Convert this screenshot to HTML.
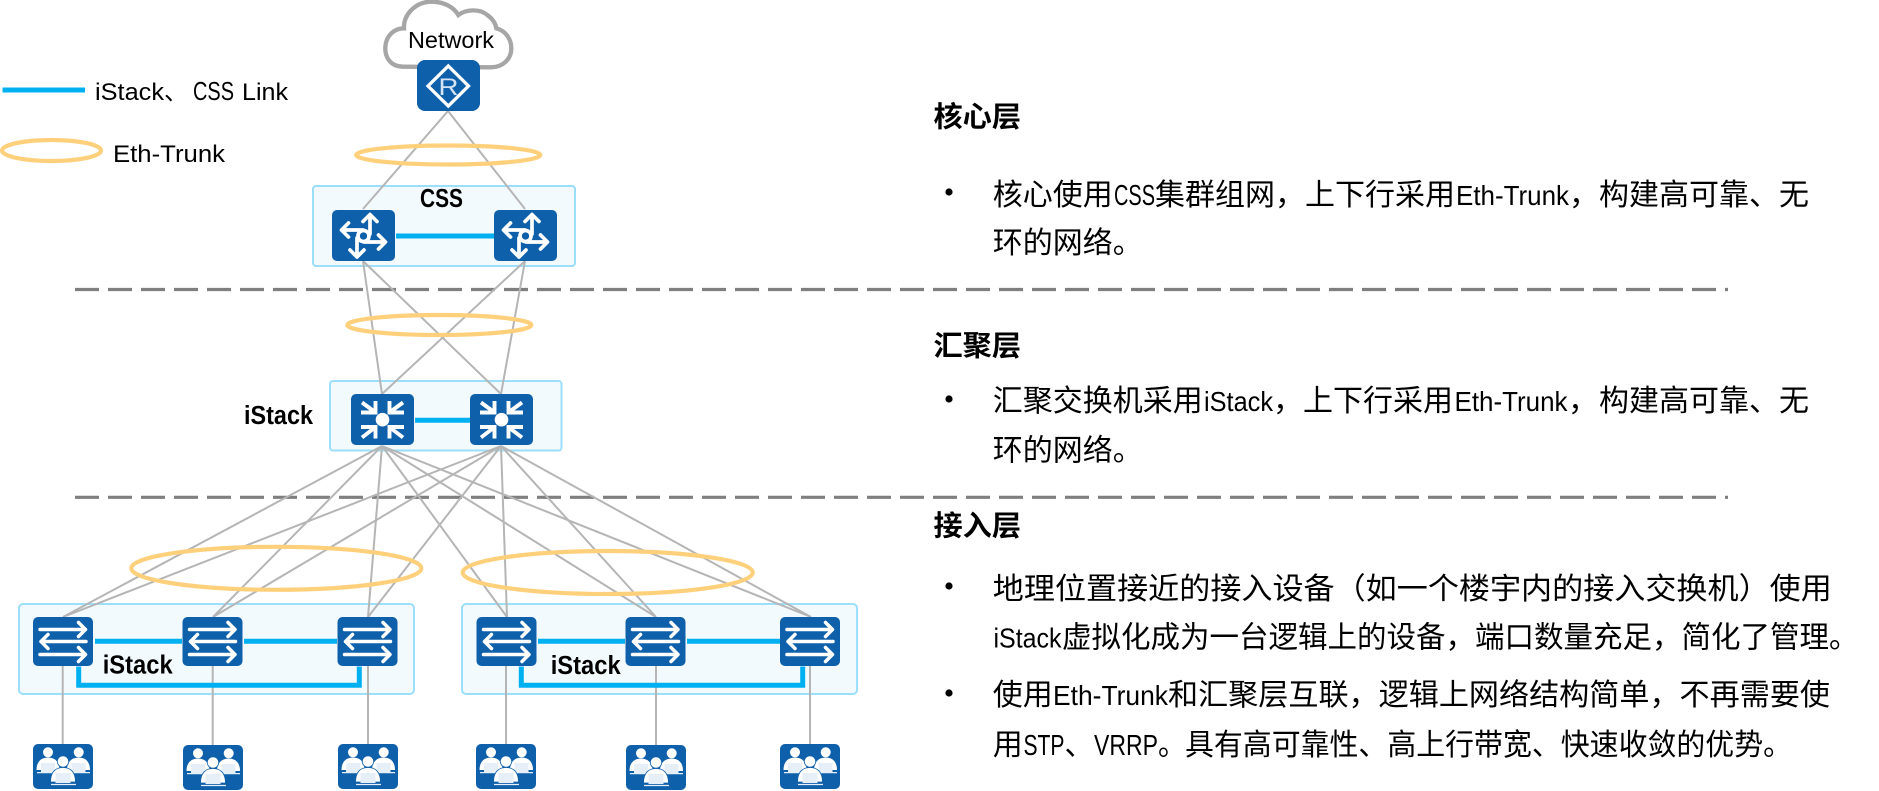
<!DOCTYPE html>
<html><head><meta charset="utf-8">
<style>
html,body{margin:0;padding:0;background:#fff;width:1879px;height:791px;overflow:hidden}
svg{display:block}
text{font-family:"Liberation Sans","Noto Sans CJK SC",sans-serif;fill:#000}
.b{font-size:30px}
.l{font-size:28px}
.c{font-size:29px}
.h{font-size:28.5px;font-weight:700}
.k{font-size:24.5px}
.lb{font-size:25.5px;font-weight:700}
.ln{stroke:#b5b5b5;stroke-width:2;fill:none}
.blue{stroke:#00b0f0;stroke-width:5;fill:none}
.el{stroke:#ffd07c;stroke-width:4.2;fill:none}
.bx{fill:#f3fafe;stroke:#9bdffb;stroke-width:2}
.ds{stroke:#7f7f7f;stroke-width:3.2;stroke-dasharray:24 9;fill:none}
</style></head><body>
<svg width="1879" height="791" viewBox="0 0 1879 791" xmlns="http://www.w3.org/2000/svg">
<defs>
<symbol id="sw" viewBox="0 0 60 49" width="60" height="49" overflow="visible">
<rect width="60" height="49" rx="5" fill="#0f60ab"/>
<g fill="none" stroke="#fff" stroke-width="3.500" stroke-linecap="round" stroke-linejoin="round">
<path d="M7 12.500H52M45.500 5.500L52.500 12.500L45.500 19.500"/>
<path d="M53 24.500H8M15 17.500L8 24.500L15 31.500"/>
<path d="M7 37.500H52M45.500 30.500L52.500 37.500L45.500 44.500"/>
</g></symbol>
<symbol id="core" viewBox="0 0 63 51" width="63" height="51" overflow="visible">
<rect width="63" height="51" rx="5" fill="#0f60ab"/>
<g fill="none" stroke="#fff" stroke-width="3.700" stroke-linecap="round" stroke-linejoin="round">
<path d="M38 24V5M31 11.500L38 4.500L45 11.500"/>
<path d="M31 20H10M16.500 13L9.500 20L16.500 27"/>
<path d="M32 32H53M46.500 25L53.500 32L46.500 39"/>
<path d="M25 28V47M18 40L25 47L32 40"/>
<circle cx="31.500" cy="26" r="5.500" fill="#0f60ab"/>
</g></symbol>
<symbol id="agg" viewBox="0 0 63 51" width="63" height="51" overflow="visible">
<rect width="63" height="51" rx="5" fill="#0f60ab"/>
<circle cx="31.500" cy="25.700" r="6.800" fill="#fff"/>
<g fill="none" stroke="#fff" stroke-width="3.900">
<path d="M10 18.500H24.500V7M11 8.500L24 18"/>
<path d="M53 18.500H38.500V7M52 8.500L39 18"/>
<path d="M10 33H24.500V44.500M11 43.500L24 33.500"/>
<path d="M53 33H38.500V44.500M52 43.500L39 33.500"/>
</g></symbol>
<symbol id="pc" viewBox="0 0 60 45" width="60" height="45" overflow="visible">
<rect width="60" height="45" rx="5" fill="#0f60ab"/>
<g fill="#fff">
<circle cx="15" cy="8.300" r="5"/><circle cx="45.700" cy="8.300" r="5"/>
<path d="M3.500 26C3.500 17 9 13.500 15 13.500C21 13.500 26.500 17 26.500 26Z"/>
<path d="M34 26C34 17 39.700 13.500 45.700 13.500C51.700 13.500 57 17 57 26Z"/>
</g>
<rect x="8" y="19" width="14" height="9" fill="#e6eef8"/>
<rect x="38.500" y="19" width="14" height="9" fill="#e6eef8"/>
<path d="M4 28.600H25M36 28.600H57" stroke="#e6eef8" stroke-width="1.300"/>
<circle cx="30" cy="17.500" r="5.700" fill="#fff" stroke="#0f60ab" stroke-width=".8"/>
<path d="M17.500 38C17.500 27.500 23 23.500 30 23.500C37 23.500 42.500 27.500 42.500 38Z" fill="#fff" stroke="#0f60ab" stroke-width=".8"/>
<rect x="22.500" y="29" width="15" height="10" fill="#e6eef8"/>
<path d="M18 40.500H43" stroke="#e6eef8" stroke-width="1.300"/>
</symbol>
</defs>

<!-- legend -->
<path class="blue" d="M2.500 90H85"/>
<text class="k" x="95" y="100" textLength="69" lengthAdjust="spacingAndGlyphs">iStack</text>
<text class="k" x="164" y="100" textLength="24" lengthAdjust="spacingAndGlyphs">、</text>
<text x="193" y="100" font-size="26" textLength="41" lengthAdjust="spacingAndGlyphs">CSS</text>
<text class="k" x="242" y="100" textLength="46" lengthAdjust="spacingAndGlyphs">Link</text>
<ellipse class="el" cx="51.500" cy="150.500" rx="49.500" ry="10.500"/>
<text class="k" x="113" y="162" textLength="112" lengthAdjust="spacingAndGlyphs">Eth-Trunk</text>

<!-- dashed -->
<path class="ds" d="M75 289.500H1728"/>
<path class="ds" d="M75 497.300H1728"/>

<!-- boxes -->
<rect class="bx" x="313" y="186" width="262" height="80" rx="3"/>
<rect class="bx" x="330" y="381" width="231.500" height="69.500" rx="3"/>
<rect class="bx" x="19" y="604" width="395" height="90" rx="4"/>
<rect class="bx" x="462" y="604" width="395" height="90" rx="4"/>

<!-- connectors -->
<g class="ln">
<path d="M448 111L363 209M448 111L525 209"/>
<path d="M363 261L382 394M363 261L501 394M525 261L382 394M525 261L501 394"/>
<path d="M382 446L63 617M382 446L213 617M382 446L368 617M382 446L507 617M382 446L656 617M382 446L811 617"/>
<path d="M501 446L63 617M501 446L213 617M501 446L368 617M501 446L507 617M501 446L656 617M501 446L811 617"/>
<path d="M62.700 665V744M212.700 665V745M368 665V744M506 665V744M656 665V745M810 665V744"/>
</g>

<!-- eth-trunk ellipses -->
<ellipse class="el" cx="448.200" cy="155" rx="92" ry="9.500"/>
<ellipse class="el" cx="439.300" cy="325" rx="92" ry="10"/>
<ellipse class="el" cx="276.300" cy="568.300" rx="145" ry="21.500"/>
<ellipse class="el" cx="607.700" cy="572.500" rx="145" ry="21.500"/>

<!-- stack links -->
<g class="blue">
<path d="M396 236H494"/>
<path d="M415 420.300H470"/>
<path d="M95 641.300H182M244 641.300H337"/>
<path d="M78.700 666.500V685.300H359.300V666.500"/>
<path d="M538 641.300H625M687 641.300H780"/>
<path d="M521.300 666.500V685.300H802.700V666.500"/>
</g>

<!-- cloud -->
<path transform="translate(380 0) scale(.3333)" d="M70 200C30 200 14 170 16 140C18 108 42 85 72 85C70 45 105 5 155 5C190 5 220 20 235 45C258 28 298 25 322 45C340 58 347 72 349 85C378 93 394 118 394 145C394 178 368 202 332 202Z" fill="#fff" stroke="#a6a6a6" stroke-width="13"/>
<text x="408" y="48" font-size="23" textLength="86" lengthAdjust="spacingAndGlyphs">Network</text>

<!-- router -->
<rect x="417" y="60" width="63" height="51" rx="8" fill="#0f60ab"/>
<path d="M448.300 66L468.500 86L448.300 106L428 86Z" fill="none" stroke="#fff" stroke-width="3.300"/>
<text x="438.500" y="95" font-size="24" style="fill:#d5e3f2" textLength="20" lengthAdjust="spacingAndGlyphs">R</text>

<!-- devices -->
<use href="#core" x="332" y="210"/><use href="#core" x="494" y="210"/>
<use href="#agg" x="351" y="394"/><use href="#agg" x="470" y="394"/>
<use href="#sw" x="33" y="617"/><use href="#sw" x="182.500" y="617"/><use href="#sw" x="337.500" y="617"/>
<use href="#sw" x="476.500" y="617"/><use href="#sw" x="625.500" y="617"/><use href="#sw" x="780" y="617"/>
<use href="#pc" x="33" y="744"/><use href="#pc" x="183" y="745"/><use href="#pc" x="338" y="744"/>
<use href="#pc" x="476" y="744"/><use href="#pc" x="626" y="745"/><use href="#pc" x="780" y="744"/>

<!-- device labels -->
<text class="lb" x="420" y="207" textLength="43" lengthAdjust="spacingAndGlyphs">CSS</text>
<text class="lb" x="244" y="424" textLength="69" lengthAdjust="spacingAndGlyphs">iStack</text>
<text class="lb" x="102.700" y="673.500" textLength="70" lengthAdjust="spacingAndGlyphs">iStack</text>
<text class="lb" x="550.700" y="674" textLength="70" lengthAdjust="spacingAndGlyphs">iStack</text>

<!-- right text: core -->
<text class="h" x="933.500" y="126.500" textLength="87.500" lengthAdjust="spacingAndGlyphs">核心层</text>
<circle cx="949" cy="192" r="3.600" fill="#000"/>
<text class="b" x="992.800" y="205" textLength="120" lengthAdjust="spacingAndGlyphs">核心使用</text>
<text class="c" x="1114" y="205" textLength="41" lengthAdjust="spacingAndGlyphs">CSS</text>
<text class="b" x="1155" y="205" textLength="150" lengthAdjust="spacingAndGlyphs">集群组网，</text>
<text class="b" x="1305" y="205" textLength="150" lengthAdjust="spacingAndGlyphs">上下行采用</text>
<text class="l" x="1456" y="205" textLength="113" lengthAdjust="spacingAndGlyphs">Eth-Trunk</text>
<text class="b" x="1569" y="205" textLength="30" lengthAdjust="spacingAndGlyphs">，</text>
<text class="b" x="1599" y="205" textLength="210" lengthAdjust="spacingAndGlyphs">构建高可靠、无</text>
<text class="b" x="992.800" y="253" textLength="150" lengthAdjust="spacingAndGlyphs">环的网络。</text>

<!-- right text: aggregation -->
<text class="h" x="933.500" y="355.500" textLength="87.500" lengthAdjust="spacingAndGlyphs">汇聚层</text>
<circle cx="949" cy="399" r="3.600" fill="#000"/>
<text class="b" x="992.800" y="411" textLength="210" lengthAdjust="spacingAndGlyphs">汇聚交换机采用</text>
<text class="l" x="1204" y="411" textLength="69" lengthAdjust="spacingAndGlyphs">iStack</text>
<text class="b" x="1273" y="411" textLength="30" lengthAdjust="spacingAndGlyphs">，</text>
<text class="b" x="1303" y="411" textLength="150" lengthAdjust="spacingAndGlyphs">上下行采用</text>
<text class="l" x="1454.500" y="411" textLength="113" lengthAdjust="spacingAndGlyphs">Eth-Trunk</text>
<text class="b" x="1568" y="411" textLength="30" lengthAdjust="spacingAndGlyphs">，</text>
<text class="b" x="1599" y="411" textLength="210" lengthAdjust="spacingAndGlyphs">构建高可靠、无</text>
<text class="b" x="992.800" y="460.500" textLength="150" lengthAdjust="spacingAndGlyphs">环的网络。</text>

<!-- right text: access -->
<text class="h" x="933.500" y="535.500" textLength="87.500" lengthAdjust="spacingAndGlyphs">接入层</text>
<circle cx="949" cy="586" r="3.600" fill="#000"/>
<text class="b" x="992.800" y="599" textLength="839" lengthAdjust="spacingAndGlyphs">地理位置接近的接入设备（如一个楼宇内的接入交换机）使用</text>
<text class="l" x="993.500" y="647.500" textLength="68" lengthAdjust="spacingAndGlyphs">iStack</text>
<text class="b" x="1062" y="647.500" textLength="796.500" lengthAdjust="spacingAndGlyphs">虚拟化成为一台逻辑上的设备，端口数量充足，简化了管理。</text>
<circle cx="949" cy="693" r="3.600" fill="#000"/>
<text class="b" x="992.800" y="705" textLength="60" lengthAdjust="spacingAndGlyphs">使用</text>
<text class="l" x="1053" y="705" textLength="115" lengthAdjust="spacingAndGlyphs">Eth-Trunk</text>
<text class="b" x="1168" y="705" textLength="662" lengthAdjust="spacingAndGlyphs">和汇聚层互联，逻辑上网络结构简单，不再需要使</text>
<text class="b" x="992.800" y="755" textLength="30" lengthAdjust="spacingAndGlyphs">用</text>
<text class="c" x="1023.500" y="755" textLength="41" lengthAdjust="spacingAndGlyphs">STP</text>
<text class="b" x="1064.500" y="755" textLength="29" lengthAdjust="spacingAndGlyphs">、</text>
<text class="c" x="1094" y="755" textLength="64" lengthAdjust="spacingAndGlyphs">VRRP</text>
<text class="b" x="1158" y="755" textLength="28" lengthAdjust="spacingAndGlyphs">。</text>
<text class="b" x="1185" y="755" textLength="607" lengthAdjust="spacingAndGlyphs">具有高可靠性、高上行带宽、快速收敛的优势。</text>
</svg>
</body></html>
